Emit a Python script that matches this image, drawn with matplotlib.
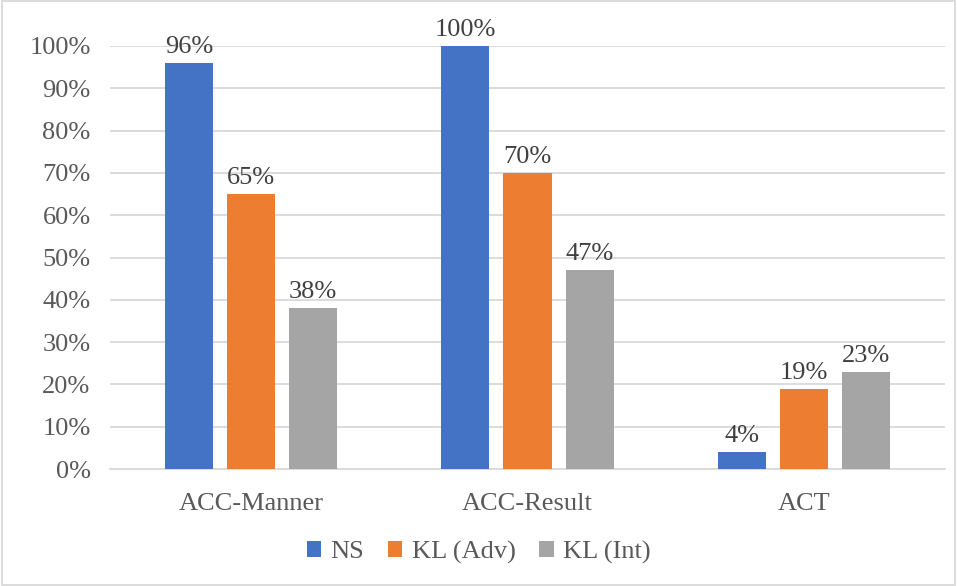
import matplotlib.pyplot as plt
import numpy as np

categories = ['ACC-Manner', 'ACC-Result', 'ACT']
series_names = ['NS', 'KL (Adv)', 'KL (Int)']
ns_values = [96, 100, 4]
kl_adv_values = [65, 70, 19]
kl_int_values = [38, 47, 23]
colors = ['#4472C4', '#ED7D31', '#A5A5A5']
text_color = '#595959'

plt.rcParams['font.family'] = ['Liberation Serif', 'DejaVu Serif']

fig = plt.figure(figsize=(9.57, 5.86), dpi=100)
ax = fig.add_axes([110 / 957, 1 - 469 / 586, (945 - 110) / 957, (469 - 46) / 586])

x = np.arange(len(categories))
width = 0.174
offset = 0.225
all_values = [ns_values, kl_adv_values, kl_int_values]
for i, vals in enumerate(all_values):
    pos = x + (i - 1) * offset
    bars = ax.bar(pos, vals, width, color=colors[i], label=series_names[i], zorder=3)
    for b, v in zip(bars, vals):
        ax.text(b.get_x() + b.get_width() / 2, v + 1.2, f'{v}%', ha='center', va='bottom',
                fontsize=19, color='#404040')

ax.set_xlim(-0.51, 2.51)
ax.set_ylim(0, 100)
ax.set_yticks(np.arange(0, 101, 10))
ax.set_yticklabels([f'{t}%' for t in range(0, 101, 10)])
ax.set_xticks(x)
ax.set_xticklabels(categories)
ax.tick_params(axis='both', length=0, labelsize=19, labelcolor=text_color)
ax.tick_params(axis='x', pad=17)
ax.tick_params(axis='y', pad=14)
ax.yaxis.grid(True, color='#d9d9d9', linewidth=1.3, zorder=0)
ax.set_axisbelow(True)
for s in ['top', 'right', 'left']:
    ax.spines[s].set_visible(False)
ax.spines['bottom'].set_color('#d9d9d9')
ax.spines['bottom'].set_linewidth(1.3)

leg = fig.legend(loc='center', bbox_to_anchor=(0.5, 1 - 552 / 586), ncol=3, frameon=False,
                 fontsize=19, handlelength=0.55, handleheight=0.55, handletextpad=0.35,
                 columnspacing=0.9)
for t in leg.get_texts():
    t.set_color(text_color)

# outer border
fig.patches.append(plt.Rectangle((0.002, 0.002), 0.996, 0.996, transform=fig.transFigure,
                                 fill=False, edgecolor='#d9d9d9', linewidth=1.3))

fig.savefig('out.png', dpi=100)
